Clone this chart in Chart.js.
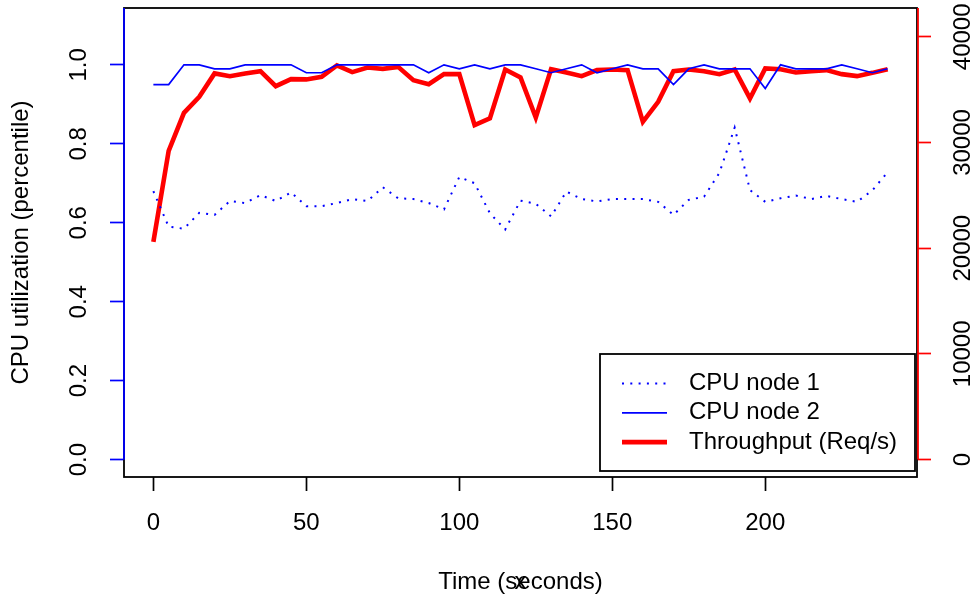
<!DOCTYPE html>
<html>
<head>
<meta charset="utf-8">
<script src="https://cdn.jsdelivr.net/npm/chart.js@4.4.1/dist/chart.umd.min.js"></script>
<style>
  html, body { margin: 0; padding: 0; background: #fff; }
  canvas { display: block; }
</style>
</head>
<body>
<canvas id="chart" width="976" height="597"></canvas>
<script>
// Sample times (seconds)
const times = [0, 5, 10, 15, 20, 25, 30, 35, 40, 45, 50, 55, 60, 65, 70, 75, 80, 85, 90, 95,
  100, 105, 110, 115, 120, 125, 130, 135, 140, 145, 150, 155, 160, 165, 170, 175, 180, 185, 190, 195,
  200, 205, 210, 215, 220, 225, 230, 235, 240];

// CPU utilization per node (left axis)
const cpuNode1 = [0.68, 0.59, 0.585, 0.625, 0.62, 0.655, 0.65, 0.67, 0.655, 0.677, 0.642, 0.642, 0.65, 0.66, 0.655, 0.69, 0.662, 0.66, 0.65, 0.634,
  0.716, 0.70, 0.624, 0.583, 0.656, 0.648, 0.616, 0.679, 0.66, 0.654, 0.66, 0.66, 0.66, 0.653, 0.62, 0.658, 0.666, 0.726, 0.841, 0.683,
  0.653, 0.662, 0.669, 0.66, 0.668, 0.66, 0.653, 0.682, 0.728];
const cpuNode2 = [0.95, 0.95, 1.0, 1.0, 0.99, 0.99, 1.0, 1.0, 1.0, 1.0, 0.98, 0.98, 1.0, 1.0, 1.0, 1.0, 1.0, 1.0, 0.98, 1.0,
  0.99, 1.0, 0.99, 1.0, 1.0, 0.99, 0.98, 0.99, 1.0, 0.98, 0.99, 1.0, 0.99, 0.99, 0.95, 0.99, 1.0, 0.99, 0.99, 0.99,
  0.94, 1.0, 0.99, 0.99, 0.99, 1.0, 0.99, 0.98, 0.99];

// Throughput in requests per second (right axis)
const throughput = [20600, 29210, 32810, 34320, 36540, 36280, 36540, 36750, 35330, 36000, 35970, 36210, 37290, 36660, 37100, 36970, 37160, 35900, 35520, 36470,
  36470, 31640, 32280, 36910, 36160, 32370, 36940, 36630, 36280, 36850, 36910, 36850, 31960, 33850, 36750, 36910, 36750, 36470, 36910, 34170,
  37010, 36940, 36630, 36750, 36850, 36470, 36280, 36590, 36940];

// Tick labels
const xTicks = [0, 50, 100, 150, 200];
const cpuTicks = [0, 0.2, 0.4, 0.6, 0.8, 1.0];
const throughputTicks = [0, 10000, 20000, 30000, 40000];

const FONT = "'Liberation Sans', Arial, Helvetica, sans-serif";
Chart.defaults.font.family = FONT;
Chart.defaults.font.size = 24;
Chart.defaults.color = '#000';

const toPoints = values => times.map((t, i) => ({ x: t, y: values[i] }));

// fixed margins like R's par("mar"), no extra padding for the labels
const fixSize = (prop, size) => s => {
  s[prop] = size;
  s.paddingTop = 0;
  s.paddingBottom = 0;
  s.paddingLeft = 0;
  s.paddingRight = 0;
};

// Box around the plot plus coloured axis lines
const frame = {
  id: 'frame',
  afterDatasetsDraw(chart) {
    const { ctx, chartArea: a, scales } = chart;
    ctx.save();
    ctx.lineWidth = 1.8;
    ctx.strokeStyle = '#000';
    ctx.strokeRect(a.left, a.top, a.right - a.left, a.bottom - a.top);
    ctx.strokeStyle = '#0000ff';
    ctx.beginPath();
    ctx.moveTo(a.left, a.top);
    ctx.lineTo(a.left, scales.y.getPixelForValue(0));
    ctx.stroke();
    ctx.strokeStyle = '#ff0000';
    ctx.beginPath();
    ctx.moveTo(a.right + 1, a.top);
    ctx.lineTo(a.right + 1, scales.y2.getPixelForValue(0));
    ctx.stroke();
    ctx.restore();
  }
};

// Legend box in the bottom right corner, and the stray "x" label
const legendBox = {
  id: 'legendBox',
  afterDraw(chart) {
    const { ctx, chartArea: a } = chart;
    const left = 600, right = 915, top = 354, bottom = 471;
    ctx.save();
    ctx.fillStyle = '#fff';
    ctx.fillRect(left, top, right - left, bottom - top);
    ctx.lineWidth = 1.8;
    ctx.strokeStyle = '#000';
    ctx.strokeRect(left, top, right - left, bottom - top);
    ctx.font = '24px ' + FONT;
    ctx.textBaseline = 'middle';
    chart.data.datasets.forEach((ds, i) => {
      const y = 383.5 + i * 29.3;
      ctx.strokeStyle = ds.borderColor;
      ctx.lineWidth = ds.borderWidth;
      ctx.setLineDash(ds.borderDash || []);
      ctx.beginPath();
      ctx.moveTo(622, y);
      ctx.lineTo(667, y);
      ctx.stroke();
      ctx.setLineDash([]);
      ctx.fillStyle = '#000';
      ctx.textAlign = 'left';
      ctx.fillText(ds.label, 689, y);
    });
    // overlapping default label left by a second plot call
    ctx.textAlign = 'center';
    ctx.fillText('x', (a.left + a.right) / 2, 597 - 14.4);
    ctx.restore();
  }
};

new Chart(document.getElementById('chart'), {
  type: 'line',
  data: {
    datasets: [
      { label: 'CPU node 1', data: toPoints(cpuNode1), yAxisID: 'y', borderColor: '#0000ff', borderWidth: 2, borderDash: [2, 6.3], borderCapStyle: 'butt' },
      { label: 'CPU node 2', data: toPoints(cpuNode2), yAxisID: 'y', borderColor: '#0000ff', borderWidth: 1.7 },
      { label: 'Throughput (Req/s)', data: toPoints(throughput), yAxisID: 'y2', borderColor: '#ff0000', borderWidth: 4.6 }
    ]
  },
  options: {
    responsive: false,
    animation: false,
    devicePixelRatio: 1,
    layout: { autoPadding: false, padding: { top: 8, left: 0, right: 0, bottom: 0 } },
    elements: { point: { radius: 0 }, line: { tension: 0, borderJoinStyle: 'miter' } },
    plugins: { legend: { display: false }, tooltip: { enabled: false } },
    scales: {
      x: {
        type: 'linear',
        min: -9.6,
        max: 249.6,
        afterBuildTicks: s => { s.ticks = xTicks.map(v => ({ value: v })); },
        afterFit: fixSize('height', 120),
        border: { display: false },
        grid: { drawOnChartArea: false, tickLength: 14, tickColor: '#000', tickWidth: 1.7 },
        ticks: { padding: 18, autoSkip: false, maxRotation: 0, callback: v => String(v) },
        title: { display: true, text: 'Time (seconds)', padding: { top: 0, bottom: 0 }, font: { size: 24, lineHeight: 1.2 } }
      },
      y: {
        position: 'left',
        min: -0.044,
        max: 1.144,
        afterBuildTicks: s => { s.ticks = cpuTicks.map(v => ({ value: v })); },
        afterFit: fixSize('width', 124),
        border: { display: false },
        grid: { drawOnChartArea: false, tickLength: 14, tickColor: '#0000ff', tickWidth: 1.7 },
        ticks: { padding: 14, autoSkip: false, minRotation: 90, maxRotation: 90, crossAlign: 'center', callback: v => v.toFixed(1) },
        title: { display: true, text: 'CPU utilization (percentile)', padding: { top: 7, bottom: 0 }, font: { size: 24, lineHeight: 1.2 } }
      },
      y2: {
        position: 'right',
        min: -1660,
        max: 42730,
        afterBuildTicks: s => { s.ticks = throughputTicks.map(v => ({ value: v })); },
        afterFit: fixSize('width', 59),
        border: { display: false },
        grid: { drawOnChartArea: false, tickLength: 14, tickColor: '#ff0000', tickWidth: 1.7 },
        ticks: { padding: -1, autoSkip: false, minRotation: 90, maxRotation: 90, crossAlign: 'center', callback: v => String(v) }
      }
    }
  },
  plugins: [frame, legendBox]
});
</script>
</body>
</html>
